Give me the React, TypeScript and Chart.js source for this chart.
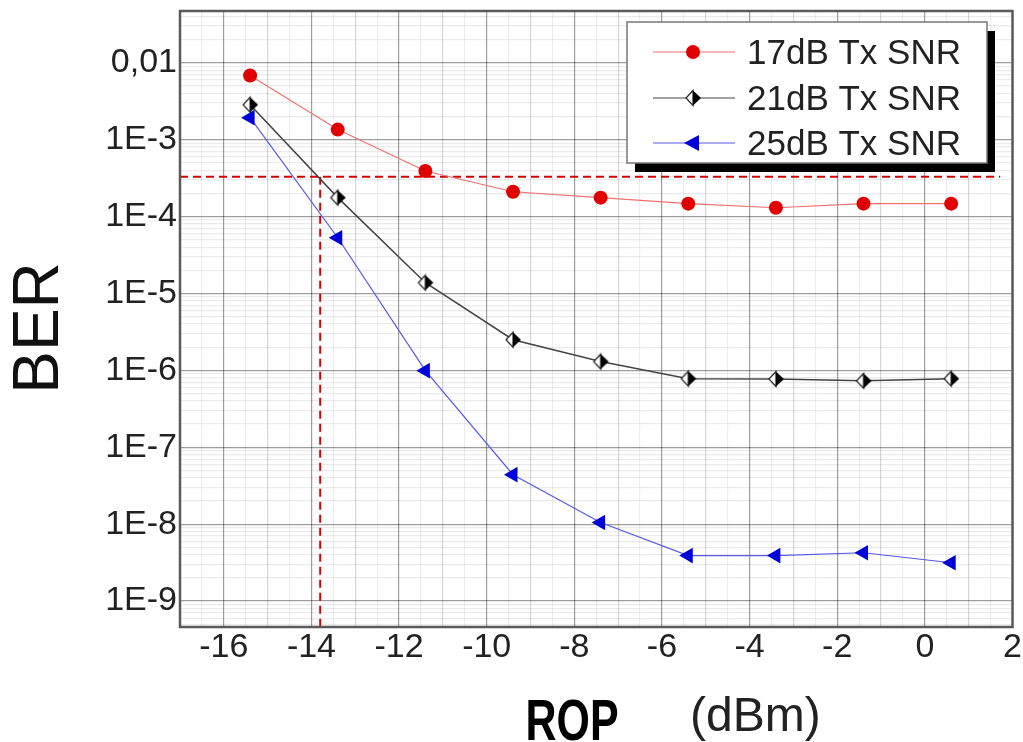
import React, { useEffect, useRef } from "react";
import { Chart, registerables } from "chart.js";

Chart.register(...registerables);

// ---- data ----
const ropValues = [-15.4, -13.4, -11.4, -9.4, -7.4, -5.4, -3.4, -1.4, 0.6];
const ber17 = [6.8e-3, 1.35e-3, 3.9e-4, 2.1e-4, 1.76e-4, 1.47e-4, 1.3e-4, 1.47e-4, 1.47e-4];
const ber21 = [2.84e-3, 1.76e-4, 1.38e-5, 2.5e-6, 1.3e-6, 7.8e-7, 7.7e-7, 7.3e-7, 7.8e-7];
const ber25 = [1.93e-3, 5.3e-5, 9.9e-7, 4.4e-8, 1.05e-8, 3.9e-9, 3.9e-9, 4.25e-9, 3.15e-9];
const seriesLabels = ["17dB Tx SNR", "21dB Tx SNR", "25dB Tx SNR"];

const berThreshold = 3.3e-4;
const ropAtThreshold = -13.8;
const thresholdLineEndX = 1.72;

const xMin = -17;
const xMax = 2;
const yMin = 4.6e-10;
const yMax = 0.047;

const xTickValues = [-16, -14, -12, -10, -8, -6, -4, -2, 0, 2];
const xTickLabels = ["-16", "-14", "-12", "-10", "-8", "-6", "-4", "-2", "0", "2"];
const yTickValues = [1e-9, 1e-8, 1e-7, 1e-6, 1e-5, 1e-4, 1e-3, 1e-2];
const yTickLabels = ["1E-9", "1E-8", "1E-7", "1E-6", "1E-5", "1E-4", "1E-3", "0,01"];

const FONT = "'Liberation Sans', Arial, sans-serif";

function makeHalfMarker(): HTMLCanvasElement {
  const c = document.createElement("canvas");
  c.width = 20;
  c.height = 20;
  const g = c.getContext("2d")!;
  g.beginPath();
  g.moveTo(10, 2.5);
  g.lineTo(3, 10);
  g.lineTo(10, 17.5);
  g.closePath();
  g.fillStyle = "#ffffff";
  g.fill();
  g.strokeStyle = "#222";
  g.lineWidth = 1.2;
  g.stroke();
  g.beginPath();
  g.moveTo(10, 2.5);
  g.lineTo(18, 10);
  g.lineTo(10, 17.5);
  g.closePath();
  g.fillStyle = "#000000";
  g.fill();
  return c;
}

function sameLog(a: number, b: number) {
  return Math.abs(Math.log10(a) - Math.log10(b)) < 1e-6;
}

export default function App() {
  const ref = useRef<HTMLCanvasElement | null>(null);

  useEffect(() => {
    document.body.style.margin = "0";
    document.body.style.overflow = "hidden";
    const canvas = ref.current!;
    const halfMarker = makeHalfMarker();

    const toPts = (ys: number[]) => ropValues.map((x, i) => ({ x, y: ys[i] }));

    const overlay = {
      id: "overlay",
      afterDraw(chart: any) {
        const ctx = chart.ctx as CanvasRenderingContext2D;
        const a = chart.chartArea;
        ctx.save();
        ctx.strokeStyle = "#5a5a5a";
        ctx.lineWidth = 2.5;
        ctx.strokeRect(a.left, a.top, a.right - a.left, a.bottom - a.top);

        // legend
        const bx = 627, by = 22, bw = 360, bh = 141;
        ctx.fillStyle = "#000";
        ctx.fillRect(bx + 8, by + 9, bw, bh);
        ctx.fillStyle = "#fff";
        ctx.fillRect(bx, by, bw, bh);
        ctx.strokeStyle = "#777";
        ctx.lineWidth = 1.5;
        ctx.strokeRect(bx, by, bw, bh);
        const rows = [52, 98, 143];
        const lineColors = ["#f07070", "#444444", "#5858e8"];
        ctx.font = `35px ${FONT}`;
        ctx.textBaseline = "middle";
        ctx.textAlign = "left";
        rows.forEach((ry, i) => {
          ctx.strokeStyle = lineColors[i];
          ctx.lineWidth = 1.2;
          ctx.beginPath();
          ctx.moveTo(653, ry);
          ctx.lineTo(735, ry);
          ctx.stroke();
          const mx = 693;
          if (i === 0) {
            ctx.fillStyle = "#e00000";
            ctx.beginPath();
            ctx.arc(mx, ry, 7, 0, Math.PI * 2);
            ctx.fill();
          } else if (i === 1) {
            ctx.drawImage(halfMarker, mx - 10, ry - 10);
          } else {
            ctx.fillStyle = "#0000d8";
            ctx.beginPath();
            ctx.moveTo(mx - 9, ry);
            ctx.lineTo(mx + 6, ry - 8);
            ctx.lineTo(mx + 6, ry + 8);
            ctx.closePath();
            ctx.fill();
          }
          ctx.fillStyle = "#222";
          ctx.fillText(seriesLabels[i], 747, ry + 2);
        });

        // y title
        ctx.save();
        ctx.translate(40, 328);
        ctx.rotate(-Math.PI / 2);
        ctx.font = `64px ${FONT}`;
        ctx.textAlign = "center";
        ctx.textBaseline = "middle";
        ctx.fillStyle = "#111";
        ctx.fillText("BER", 0, 0);
        ctx.restore();

        // x title
        ctx.save();
        ctx.translate(572, 740);
        ctx.scale(0.74, 1);
        ctx.font = `bold 58px ${FONT}`;
        ctx.textAlign = "center";
        ctx.textBaseline = "alphabetic";
        ctx.fillStyle = "#000";
        ctx.fillText("ROP", 0, 0);
        ctx.restore();

        ctx.font = `48px ${FONT}`;
        ctx.textAlign = "left";
        ctx.textBaseline = "alphabetic";
        ctx.fillStyle = "#222";
        ctx.fillText("(dBm)", 690, 731);
        ctx.restore();
      },
    };

    const chart = new Chart(canvas, {
      type: "line",
      data: {
        datasets: [
          {
            label: seriesLabels[0],
            data: toPts(ber17),
            borderColor: "#f07070",
            borderWidth: 1.2,
            pointStyle: "circle",
            pointRadius: 7,
            pointBackgroundColor: "#e00000",
            pointBorderColor: "#e00000",
            pointBorderWidth: 0,
            tension: 0,
          },
          {
            label: seriesLabels[1],
            data: toPts(ber21),
            borderColor: "#444444",
            borderWidth: 1.5,
            pointStyle: halfMarker as any,
            pointRadius: 9,
            tension: 0,
          },
          {
            label: seriesLabels[2],
            data: toPts(ber25),
            borderColor: "#5858e8",
            borderWidth: 1.2,
            pointStyle: "triangle",
            rotation: -90,
            pointRadius: 9,
            pointBackgroundColor: "#0000d8",
            pointBorderColor: "#0000d8",
            pointBorderWidth: 0,
            tension: 0,
          } as any,
          {
            label: "threshold-h",
            data: [
              { x: xMin, y: berThreshold },
              { x: thresholdLineEndX, y: berThreshold },
            ],
            borderColor: "#d40000",
            borderWidth: 2,
            borderDash: [8, 5],
            pointRadius: 0,
          },
          {
            label: "threshold-v",
            data: [
              { x: ropAtThreshold, y: berThreshold },
              { x: ropAtThreshold, y: yMin },
            ],
            borderColor: "#d40000",
            borderWidth: 2,
            borderDash: [8, 5],
            pointRadius: 0,
          },
        ],
      },
      options: {
        animation: false,
        responsive: false,
        maintainAspectRatio: false,
        layout: { padding: { left: 0, right: 10, top: 11, bottom: 0 } },
        plugins: {
          legend: { display: false },
          tooltip: { enabled: false },
        },
        scales: {
          x: {
            type: "linear",
            min: xMin,
            max: xMax,
            afterBuildTicks(scale: any) {
              const t: any[] = [];
              for (let v = xMin; v <= xMax + 1e-9; v += 0.5) t.push({ value: v });
              scale.ticks = t;
            },
            afterFit(scale: any) {
              scale.height = 115;
              scale.paddingLeft = 0;
              scale.paddingRight = 0;
            },
            ticks: {
              autoSkip: false,
              maxRotation: 0,
              padding: 0,
              color: "#222",
              font: { family: FONT, size: 34 },
              callback(value: any) {
                const i = xTickValues.findIndex((v) => Math.abs(v - value) < 1e-9);
                return i >= 0 ? xTickLabels[i] : "";
              },
            },
            grid: {
              drawTicks: false,
              color(ctx: any) {
                const v = ctx.tick ? ctx.tick.value : 0;
                if (Math.abs(v % 2) < 1e-9) return "rgba(0,0,0,0.38)";
                if (Math.abs(v % 1) < 1e-9) return "rgba(0,0,0,0.16)";
                return "rgba(0,0,0,0.07)";
              },
              lineWidth: 1.2,
            },
            border: { display: false },
          },
          y: {
            type: "logarithmic",
            min: yMin,
            max: yMax,
            afterBuildTicks(scale: any) {
              const t: any[] = [];
              for (let e = -10; e <= -2; e++) {
                for (let k = 1; k <= 9; k++) {
                  const v = k * Math.pow(10, e);
                  if (v >= yMin && v <= yMax) t.push({ value: v, major: k === 1 });
                }
              }
              scale.ticks = t;
            },
            afterFit(scale: any) {
              scale.width = 180;
              scale.paddingTop = 0;
              scale.paddingBottom = 0;
            },
            ticks: {
              autoSkip: false,
              padding: 3,
              color: "#222",
              font: { family: FONT, size: 34 },
              callback(value: any) {
                const i = yTickValues.findIndex((v) => sameLog(v, value));
                return i >= 0 ? yTickLabels[i] : "";
              },
            },
            grid: {
              drawTicks: false,
              color(ctx: any) {
                const v = ctx.tick ? ctx.tick.value : 1;
                const isDecade = yTickValues.some((d) => sameLog(d, v));
                return isDecade ? "rgba(0,0,0,0.38)" : "rgba(0,0,0,0.08)";
              },
              lineWidth: 1.2,
            },
            border: { display: false },
          },
        },
      } as any,
      plugins: [overlay],
    });

    return () => chart.destroy();
  }, []);

  return (
    <div style={{ width: 1023, height: 742, background: "#fff" }}>
      <canvas ref={ref} width={1023} height={742} />
    </div>
  );
}
